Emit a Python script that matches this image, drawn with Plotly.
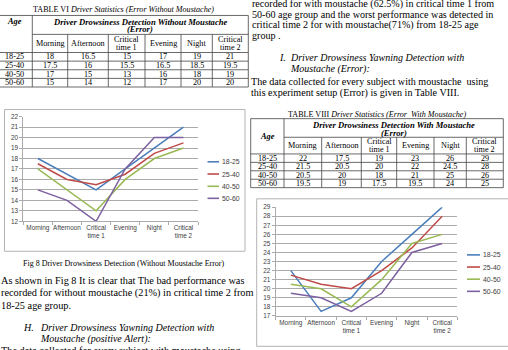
import plotly.graph_objects as go

W, H = 508, 350

# ---------------- data ----------------
periods = ["Morning", "Afternoon", "Critical<br>time 1", "Evening", "Night", "Critical<br>time 2"]
age_groups = ["18-25", "25-40", "40-50", "50-60"]

without_18_25 = [18, 16.5, 15, 17, 19, 21]
without_25_40 = [17.5, 16, 15.5, 16.5, 18.5, 19.5]
without_40_50 = [17, 15, 13, 16, 18, 19]
without_50_60 = [15, 14, 12, 17, 20, 20]

with_18_25 = [22, 17.5, 19, 23, 26, 29]
with_25_40 = [21.5, 20.5, 20, 22, 24.5, 28]
with_40_50 = [20.5, 20, 18, 21, 25, 26]
with_50_60 = [19.5, 19, 17.5, 19.5, 24, 25]

chart1_range = [12, 22]
chart2_range = [17, 29]

table6_caption = "TABLE VI <i>Driver Statistics (Error Without Moustache)</i>"
table6_header = ["<b><i>Driver Drowsiness Detection Without Moustache</i></b>", "<b><i>(Error)</i></b>"]
table8_caption = "TABLE VIII <i>Driver Statistics (Error  With Moustache)</i>"
table8_header = ["<b><i>Driver Drowsiness Detection With Moustache</i></b>", "<b><i>(Error)</i></b>"]
fig8_caption = "Fig 8 Driver Drowsiness Detection (Without Moustache Error)"

left_paragraph = [
    "As shown in Fig 8 It is clear that The bad performance was",
    "recorded for without moustache (21%) in critical time 2 from",
    "18-25 age group.",
]
left_heading = ("H.", ["Driver Drowsiness Yawning Detection with", "Moustache (positive Alert):"])
left_tail = "The data collected for every subject with moustache using"

right_top = [
    "recorded for with moustache (62.5%) in critical time 1 from",
    "50-60 age group and the worst performance was detected in",
    "critical time 2 for with moustache(71%) from 18-25 age",
    "group .",
]
right_heading = ("I.", ["Driver Drowsiness Yawning Detection with", "Moustache (Error):"])
right_paragraph = [
    "The data collected for every subject with moustache  using",
    "this experiment setup (Error) is given in Table VIII.",
]

colors = ["#4A7EBB", "#BE4B48", "#98B954", "#7D60A0"]

SERIF = "Liberation Serif"
SANS = "Liberation Sans"


def X(p):
    return p / W


def Y(p):
    return 1 - p / H


shapes = []
annotations = []


def line(x0, y0, x1, y1, color="#444444", w=0.8):
    shapes.append(dict(type="line", xref="paper", yref="paper", x0=X(x0), y0=Y(y0),
                       x1=X(x1), y1=Y(y1), line=dict(color=color, width=w)))


def rect(x0, y0, x1, y1, color="#b4b4b4", w=1):
    shapes.append(dict(type="rect", xref="paper", yref="paper", x0=X(x0), y0=Y(y0),
                       x1=X(x1), y1=Y(y1), line=dict(color=color, width=w)))


def text(x, y, s, size, anchor="center", family=SERIF, color="black"):
    annotations.append(dict(xref="paper", yref="paper", x=X(x), y=Y(y), text=s,
                            showarrow=False, xanchor=anchor, yanchor="middle",
                            font=dict(family=family, size=size, color=color),
                            borderpad=0))


def draw_table(xs, top, head_line, row_lines, caption, cap_y, header, header_ys, age_y, rows):
    fs = 8.2
    bottom = row_lines[-1]
    text((xs[1] + xs[-1]) / 2 - 17, cap_y, caption, 8.1)
    # horizontal lines
    line(xs[0], top, xs[-1], top)
    line(xs[1], head_line, xs[-1], head_line)
    for yl in row_lines:
        line(xs[0], yl, xs[-1], yl)
    # vertical lines
    for xv in (xs[0], xs[1], xs[-1]):
        line(xv, top, xv, bottom)
    for xv in xs[2:-1]:
        line(xv, head_line, xv, bottom)
    # header
    hx = (xs[1] + xs[-1]) / 2
    for s, yy in zip(header, header_ys):
        text(hx, yy, s, 8.6)
    text((xs[0] + xs[1]) / 2, age_y, "<b><i>Age</i></b>", 8.4)
    # column headers (each line placed on its own)
    sub_c = (head_line + row_lines[0]) / 2
    for j, p in enumerate(periods):
        cx = (xs[j + 1] + xs[j + 2]) / 2
        parts = p.split("<br>")
        if len(parts) == 1:
            text(cx, sub_c, parts[0], fs)
        else:
            text(cx, sub_c - 4.3, parts[0], fs)
            text(cx, sub_c + 4.3, parts[1], fs)
    # rows
    for i, (age, vals) in enumerate(zip(age_groups, rows)):
        yc = (row_lines[i] + row_lines[i + 1]) / 2
        text((xs[0] + xs[1]) / 2 + 0.5, yc, age, fs)
        for j, v in enumerate(vals):
            text((xs[j + 1] + xs[j + 2]) / 2, yc, f"{v:g}", fs)


# ---------------- tables ----------------
draw_table([-4, 32.3, 67.7, 108.3, 145, 181, 212.3, 248.3], 11.7, 31.0,
           [49.5, 58.3, 67.1, 75.9, 84.7],
           table6_caption, 5.7, table6_header, [18.3, 25.9], 18.3,
           [without_18_25, without_25_40, without_40_50, without_50_60])

draw_table([250.7, 284, 321.7, 361.3, 396.7, 434, 466.3, 503.3], 117.0, 136.0,
           [153.0, 161.6, 170.2, 178.8, 187.4],
           table8_caption, 112.6, table8_header, [123.3, 131.6], 135.5,
           [with_18_25, with_25_40, with_40_50, with_50_60])

# ---------------- body text ----------------
for s, yy in zip(left_paragraph, [282.0, 294.6, 307.2]):
    text(0, yy, s, 10.3, anchor="left")
text(21.5, 329.6, "<i>" + left_heading[0] + "</i>", 10, anchor="left")
for s, yy in zip(left_heading[1], [329.6, 341.8]):
    text(39.3, yy, "<i>" + s + "</i>", 10, anchor="left")
text(0, 354.0, left_tail, 10.3, anchor="left")

for s, yy in zip(right_top, [0.3, 10.8, 21.3, 32.0]):
    text(251, yy, s, 10.1, anchor="left")
text(277.5, 55.0, "<i>" + right_heading[0] + "</i>", 10, anchor="left")
for s, yy in zip(right_heading[1], [55.0, 66.6]):
    text(289, yy, "<i>" + s + "</i>", 10, anchor="left")
for s, yy in zip(right_paragraph, [79.2, 90.8]):
    text(250, yy, s, 10.1, anchor="left")

text(124, 264.3, fig8_caption, 8.0)

# ---------------- chart frames ----------------
rect(4.5, 107.7, 245, 252.3)
rect(256.7, 198.8, 512, 349.3)

# ---------------- charts ----------------
fig = go.Figure()
series1 = [without_18_25, without_25_40, without_40_50, without_50_60]
series2 = [with_18_25, with_25_40, with_40_50, with_50_60]
for vals, c, name in zip(series1, colors, age_groups):
    fig.add_trace(go.Scatter(x=periods, y=vals, mode="lines", name=name,
                             line=dict(color=c, width=1.5), showlegend=False,
                             xaxis="x", yaxis="y", hoverinfo="skip"))
for vals, c, name in zip(series2, colors, age_groups):
    fig.add_trace(go.Scatter(x=periods, y=vals, mode="lines", name=name,
                             line=dict(color=c, width=1.5), showlegend=False,
                             xaxis="x2", yaxis="y2", hoverinfo="skip"))

# manual legends
legend1_ys = [161.0, 173.5, 186.0, 198.3]
legend2_ys = [256.0, 268.4, 280.8, 293.2]
for name, c, yy in zip(age_groups, colors, legend1_ys):
    line(207.5, yy, 219, yy, color=c, w=1.6)
    text(220.5, yy, name, 6.9, anchor="left", family=SANS, color="#404040")
for name, c, yy in zip(age_groups, colors, legend2_ys):
    line(467, yy, 480, yy, color=c, w=1.6)
    text(481.5, yy, name, 6.9, anchor="left", family=SANS, color="#404040")

GRID = "#ababab"
tickfont = dict(family=SANS, size=6.4, color="#404040")


def xaxis(domain, anchor):
    return dict(domain=domain, anchor=anchor, type="category", range=[-0.5, 5.5],
                showgrid=False, showline=True, linecolor=GRID, linewidth=1,
                ticks="outside", tickson="boundaries", ticklen=3, tickcolor=GRID,
                tickangle=0, tickfont=tickfont, zeroline=False, fixedrange=True)


def yaxis(domain, anchor, rng):
    return dict(domain=domain, anchor=anchor, range=rng, dtick=1, showgrid=True,
                gridcolor=GRID, gridwidth=1, showline=True, linecolor=GRID, linewidth=1,
                ticks="outside", ticklen=3, tickcolor=GRID, tickfont=tickfont,
                zeroline=False, fixedrange=True)


fig.update_layout(
    width=W, height=H,
    margin=dict(l=0, r=0, t=0, b=0),
    paper_bgcolor="white", plot_bgcolor="white",
    xaxis=xaxis([X(23.3), X(198.0)], "y"),
    yaxis=yaxis([Y(221.7), Y(115.0)], "x", chart1_range),
    xaxis2=xaxis([X(275.7), X(457.3)], "y2"),
    yaxis2=yaxis([Y(318.3), Y(207.3)], "x2", chart2_range),
    shapes=shapes,
    annotations=annotations,
    showlegend=False,
)

fig.write_html("out.html")
